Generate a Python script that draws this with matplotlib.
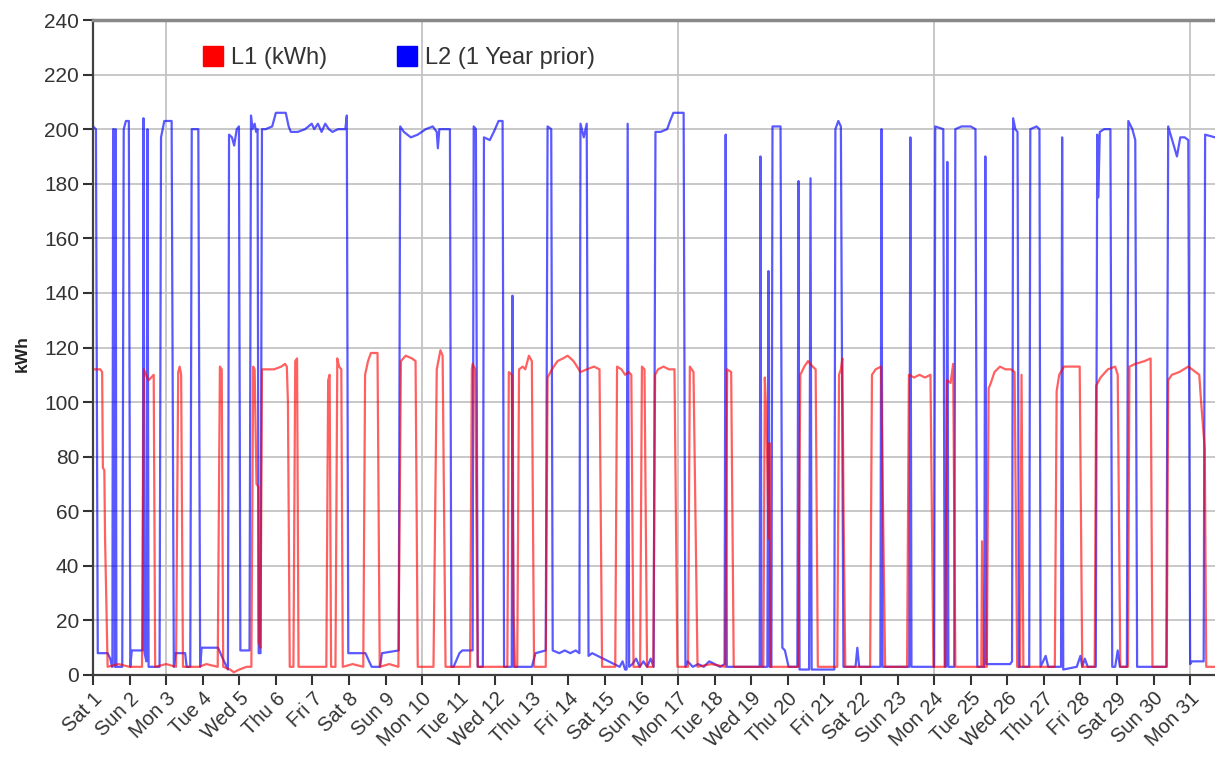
import matplotlib
matplotlib.use("Agg")
import matplotlib.pyplot as plt
from matplotlib.lines import Line2D

plt.rcParams['font.family'] = ['Liberation Sans', 'DejaVu Sans']

# ---------------- data (days since Sat 1 00:00, kWh) ----------------
l1_days = [0.00, 0.20, 0.25, 0.27, 0.31, 0.33, 0.40, 0.70, 1.00,
           1.34, 1.39, 1.45, 1.52, 1.66, 1.70, 2.00,
           2.27, 2.33, 2.37, 2.41, 2.46, 2.90, 3.10,
           3.41, 3.47, 3.52, 3.56, 3.75, 3.85, 4.00, 4.20,
           4.33, 4.38, 4.42, 4.47, 4.52, 4.53, 4.58, 4.62,
           4.75, 4.95, 5.15, 5.25, 5.30, 5.33, 5.38,
           5.48, 5.53, 5.58, 5.62, 6.00,
           6.38, 6.43, 6.47, 6.51,
           6.63, 6.68, 6.73, 6.79, 6.83, 7.10,
           7.39, 7.44, 7.52, 7.60, 7.78, 7.84, 8.10,
           8.35, 8.42, 8.55, 8.72, 8.82, 8.88,
           9.31, 9.40, 9.50, 9.56, 9.64, 10.00,
           10.31, 10.36, 10.38, 10.45, 10.52, 10.90,
           11.33, 11.37, 11.45, 11.50, 11.54,
           11.60, 11.65, 11.75, 11.82, 11.92, 12.00, 12.06,
           12.38, 12.43, 12.55, 12.70, 12.85, 12.98, 13.14, 13.33, 13.50, 13.70, 13.85, 13.92,
           14.28, 14.33, 14.45, 14.55, 14.65, 14.72, 14.78,
           14.96, 15.01, 15.08, 15.15,
           15.32, 15.37, 15.45, 15.60, 15.75, 15.90, 15.98,
           16.27, 16.32, 16.42, 16.53, 16.90,
           17.29, 17.34, 17.45, 17.52, 17.90,
           18.33, 18.37, 18.42, 18.47, 18.50, 18.53, 18.90,
           19.28, 19.34, 19.45, 19.55, 19.68, 19.76, 19.82,
           20.35, 20.40, 20.45, 20.49, 20.52, 20.57, 20.90,
           21.25, 21.30, 21.40, 21.55, 21.66, 22.00,
           22.26, 22.31, 22.45, 22.60, 22.75, 22.90, 22.98,
           23.30, 23.35, 23.45, 23.52, 23.58, 23.90,
           24.29, 24.31, 24.33, 24.35,
           24.44, 24.49, 24.55, 24.65, 24.80, 24.95, 25.10, 25.20, 25.27,
           25.35, 25.39, 25.44, 25.80,
           26.30, 26.35, 26.42, 26.55, 26.80, 26.98, 27.05,
           27.39, 27.43, 27.55, 27.75, 27.95, 28.02, 28.09,
           28.30, 28.34, 28.50, 28.75, 28.92, 28.97,
           29.36, 29.40, 29.50, 29.70, 29.95, 30.15, 30.25, 30.30, 30.40, 30.44, 30.68]
l1_kwh = [112, 112, 111, 76, 75, 50, 3, 4, 3,
          3, 112, 110, 108, 110, 3, 4,
          3, 111, 113, 110, 3, 3, 4,
          3, 113, 112, 3, 2, 1, 2, 3,
          3, 113, 112, 70, 69, 12, 10, 112,
          112, 112, 113, 114, 113, 100, 3,
          3, 115, 116, 3, 3,
          3, 108, 110, 3,
          3, 116, 113, 112, 3, 4,
          3, 110, 115, 118, 118, 3, 4,
          3, 115, 117, 116, 115, 3,
          3, 112, 119, 117, 3, 3,
          3, 112, 114, 112, 3, 3,
          3, 111, 110, 23, 3,
          3, 112, 113, 112, 117, 115, 3,
          3, 109, 112, 115, 116, 117, 115, 111, 112, 113, 112, 3,
          3, 113, 112, 110, 111, 110, 3,
          3, 113, 112, 3,
          3, 110, 112, 113, 112, 112, 3,
          3, 113, 111, 3, 4,
          3, 112, 111, 3, 3,
          3, 109, 92, 50, 85, 3, 3,
          3, 110, 113, 115, 113, 112, 3,
          3, 110, 112, 116, 64, 3, 3,
          3, 110, 112, 113, 3, 3,
          3, 110, 109, 110, 109, 110, 3,
          3, 108, 107, 114, 3, 3,
          3, 49, 30, 3,
          3, 105, 107, 111, 113, 112, 112, 111, 3,
          3, 110, 3, 3,
          3, 104, 110, 113, 113, 113, 3,
          3, 106, 109, 112, 113, 110, 3,
          3, 113, 114, 115, 116, 3,
          3, 108, 110, 111, 113, 111, 110, 100, 83, 3, 3]

l2_days = [0.00, 0.08, 0.13, 0.40, 0.47, 0.52,
           0.53, 0.55, 0.57, 0.60, 0.62, 0.64,
           0.80, 0.84, 0.90, 0.98, 1.02, 1.06, 1.35,
           1.36, 1.38, 1.41, 1.46, 1.49, 1.52,
           1.82, 1.86, 1.95, 2.15, 2.21, 2.26, 2.52, 2.56,
           2.66, 2.70, 2.88, 2.93, 2.97, 3.42, 3.55, 3.69,
           3.72, 3.80, 3.86, 3.93, 3.99, 4.03, 4.28,
           4.32, 4.36, 4.42, 4.46, 4.50, 4.53, 4.58, 4.62, 4.72, 4.90, 5.00, 5.27, 5.35,
           5.41, 5.60, 5.80, 5.98, 6.05, 6.15, 6.25, 6.35, 6.45, 6.55, 6.70, 6.90, 6.94, 6.98,
           7.45, 7.55, 7.62, 7.85, 7.90, 8.36,
           8.40, 8.50, 8.69, 8.88, 9.10, 9.29, 9.40, 9.43, 9.47, 9.65, 9.76, 9.80,
           9.86, 10.02, 10.10, 10.38, 10.41, 10.47, 10.52, 10.66, 10.69, 10.85, 10.96, 11.09, 11.20, 11.24,
           11.45, 11.47, 11.50, 12.00, 12.10, 12.38, 12.43, 12.53, 12.57, 12.75, 12.90, 13.05, 13.20, 13.30,
           13.33, 13.42, 13.50, 13.55, 13.65, 13.80, 13.95, 14.10, 14.25, 14.40, 14.48, 14.55, 14.59,
           14.62, 14.66, 14.75, 14.85, 14.95, 15.05, 15.15, 15.25, 15.33,
           15.38, 15.52, 15.70, 15.78, 15.87, 16.15, 16.20, 16.26, 16.40, 16.55, 16.70, 16.85, 17.00,
           17.15, 17.27, 17.30, 17.33, 18.20,
           18.23, 18.25, 18.28, 18.44, 18.47, 18.50, 18.55, 18.58, 18.80, 18.85, 18.92, 19.02, 19.26,
           19.29, 19.32, 19.58, 19.62, 19.65, 20.27,
           20.30, 20.38, 20.45, 20.52, 20.85, 20.90, 20.95, 21.53, 21.56, 21.59, 22.32, 22.35, 22.38, 23.00,
           23.03, 23.25, 23.29, 23.33, 23.36, 23.39, 23.55, 23.58, 23.75, 24.00, 24.13, 24.18,
           24.37, 24.40, 24.43, 25.08, 25.13,
           25.16, 25.22, 25.28, 25.32, 25.60, 25.63, 25.80, 25.88, 25.91, 26.05, 26.12,
           26.47, 26.50, 26.53, 26.90, 27.00, 27.05, 27.12, 27.20, 27.42,
           27.46, 27.49, 27.53, 27.65, 27.82, 27.87, 27.95, 28.02, 28.08,
           28.27, 28.31, 28.42, 28.50, 28.55, 29.35,
           29.40, 29.51, 29.64, 29.73, 29.85, 29.95, 30.00, 30.05, 30.37, 30.41, 30.68]
l2_kwh = [201, 200, 8, 8, 6, 3,
          3, 200, 200, 3, 200, 3,
          3, 200, 203, 203, 3, 9, 9,
          9, 204, 8, 5, 200, 3,
          3, 197, 203, 203, 3, 8, 8, 3,
          3, 200, 200, 3, 10, 10, 6, 2,
          198, 197, 194, 200, 201, 9, 9,
          205, 200, 202, 199, 200, 8, 8, 200, 200, 201, 206, 206, 201,
          199, 199, 200, 202, 200, 202, 199, 202, 200, 199, 200, 200, 205, 8,
          8, 5, 3, 3, 8, 9,
          201, 199, 197, 198, 200, 201, 199, 193, 200, 200, 200, 3,
          3, 8, 9, 9, 201, 200, 3, 3, 197, 196, 199, 203, 203, 3,
          3, 139, 3, 3, 8, 9, 201, 200, 9, 8, 9, 8, 9, 8,
          202, 197, 202, 7, 8, 7, 6, 5, 4, 3, 5, 2, 2,
          202, 3, 4, 6, 3, 5, 3, 6, 3,
          199, 199, 200, 203, 206, 206, 3, 5, 3, 4, 3, 5, 4,
          3, 4, 198, 3, 3,
          3, 190, 3, 3, 148, 3, 3, 201, 201, 10, 9, 3, 3,
          181, 2, 2, 182, 2, 2,
          200, 203, 201, 3, 3, 10, 3, 3, 200, 3, 3, 197, 3, 3,
          201, 200, 3, 3, 188, 3, 3, 200, 201, 201, 200, 3,
          3, 190, 4, 4, 5,
          204, 200, 199, 3, 3, 200, 201, 200, 3, 7, 3,
          3, 197, 2, 3, 7, 3, 6, 3, 3,
          198, 175, 199, 200, 200, 3, 3, 9, 3,
          3, 203, 200, 196, 3, 3,
          201, 196, 190, 197, 197, 196, 4, 5, 5, 198, 197]

tick_days = list(range(31))
tick_labels = ['Sat 1', 'Sun 2', 'Mon 3', 'Tue 4', 'Wed 5', 'Thu 6', 'Fri 7',
               'Sat 8', 'Sun 9', 'Mon 10', 'Tue 11', 'Wed 12', 'Thu 13', 'Fri 14',
               'Sat 15', 'Sun 16', 'Mon 17', 'Tue 18', 'Wed 19', 'Thu 20', 'Fri 21',
               'Sat 22', 'Sun 23', 'Mon 24', 'Tue 25', 'Wed 26', 'Thu 27', 'Fri 28',
               'Sat 29', 'Sun 30', 'Mon 31']
week_grid_days = [2, 9, 16, 23, 30]
y_ticks = list(range(0, 241, 20))

# ---------------- figure ----------------
fig = plt.figure(figsize=(12.15, 7.58), dpi=100)
ax = fig.add_axes([93 / 1215, 83 / 758, 1 - 93 / 1215, 655 / 758])

for d in week_grid_days:
    ax.axvline(d, color='#c4c4c4', lw=1.3, zorder=0)
for yv in y_ticks[1:]:
    ax.axhline(yv, color='#c4c4c4', lw=1.3, zorder=0)

ax.plot(l2_days, l2_kwh, color='#0000ff', alpha=0.65, lw=1.6, zorder=2)
ax.plot(l1_days, l1_kwh, color='#ff0000', alpha=0.62, lw=1.6, zorder=3)

ax.set_xlim(0, 30.68)
ax.set_ylim(0, 240)
ax.set_yticks(y_ticks)
ax.set_xticks(tick_days)
ax.set_xticklabels(tick_labels, rotation=45, ha='right', va='top',
                   rotation_mode='anchor')
ax.tick_params(axis='both', labelcolor='#333333',
               color='#333333', length=7, width=1.5, direction='out')
ax.tick_params(axis='y', labelsize=15, pad=3)
ax.tick_params(axis='x', labelsize=14.5, pad=3)

for s in ['left', 'bottom']:
    ax.spines[s].set_color('#404040')
    ax.spines[s].set_linewidth(1.6)
ax.spines['top'].set_color('#888888')
ax.spines['top'].set_linewidth(2.5)
ax.spines['right'].set_visible(False)

ax.set_ylabel('kWh', fontsize=12.5, fontweight='bold', color='#222222')
ax.yaxis.set_label_coords(-0.0565, 0.49)

handles = [Line2D([], [], marker='s', linestyle='none', markersize=15,
                  markerfacecolor='#ff0000', markeredgecolor='#ff0000'),
           Line2D([], [], marker='s', linestyle='none', markersize=14,
                  markerfacecolor='#0000ff', markeredgecolor='#0000ff')]
leg = ax.legend(handles, ['L1 (kWh)', 'L2 (1 Year prior)'], ncol=2,
                loc='center left', bbox_to_anchor=(0.088, 0.942),
                frameon=False, fontsize=17, handletextpad=0.25,
                columnspacing=2.9, handlelength=1.0, borderaxespad=0)
for t in leg.get_texts():
    t.set_color('#333333')

fig.savefig('out.png', dpi=100)
